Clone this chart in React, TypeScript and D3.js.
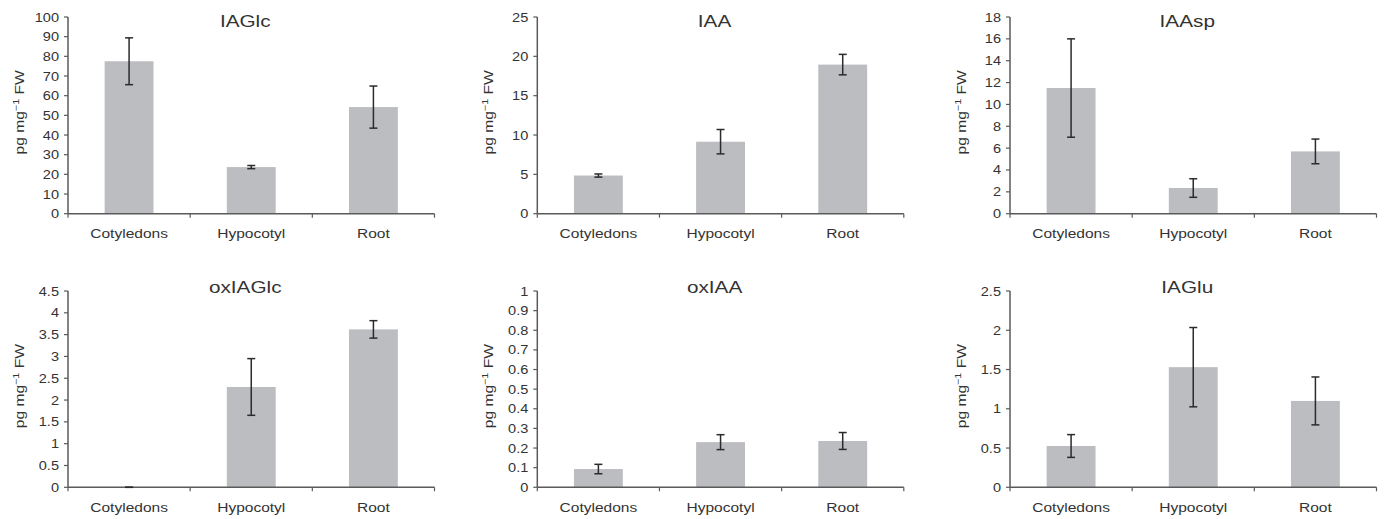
import React from "react";
import * as d3 from "d3";

const categories = ["Cotyledons", "Hypocotyl", "Root"];
const titles = ["IAGlc", "IAA", "IAAsp", "oxIAGlc", "oxIAA", "IAGlu"];
const yMax = [100, 25, 18, 4.5, 1, 2.5];
const yStep = [10, 5, 2, 0.5, 0.1, 0.5];

const iaglcMean = [77.5, 23.7, 54.2];
const iaglcErr = [11.9, 0.8, 10.7];
const iaaMean = [4.85, 9.15, 18.95];
const iaaErr = [0.2, 1.55, 1.3];
const iaaspMean = [11.5, 2.35, 5.7];
const iaaspErr = [4.5, 0.85, 1.13];
const oxiaglcMean = [0, 2.3, 3.62];
const oxiaglcErr = [0, 0.65, 0.2];
const oxiaaMean = [0.093, 0.23, 0.236];
const oxiaaErr = [0.024, 0.038, 0.043];
const iagluMean = [0.526, 1.53, 1.1];
const iagluErr = [0.145, 0.505, 0.305];

const means = [iaglcMean, iaaMean, iaaspMean, oxiaglcMean, oxiaaMean, iagluMean];
const errs = [iaglcErr, iaaErr, iaaspErr, oxiaglcErr, oxiaaErr, iagluErr];

// layout
const colX = [68, 537.3, 1010];
const plotW = 366.5;
const rowTop = [17, 291];
const rowZero = [213.7, 487.3];
const titleDy = [10.3, 1.7];

const BAR = "#bcbdc1";
const AXIS = "#5a5a5a";
const TEXT = "#333333";
const FONT = "'Liberation Sans', Arial, Helvetica, sans-serif";

function fmt(v: number) {
  return String(+v.toFixed(3));
}

function Panel({ idx }: { idx: number }) {
  const col = idx % 3;
  const row = Math.floor(idx / 3);
  const x0 = colX[col];
  const top = rowTop[row];
  const zero = rowZero[row];
  const x = d3.scaleBand<string>().domain(categories).range([x0, x0 + plotW]).paddingInner(0).paddingOuter(0);
  const y = d3.scaleLinear().domain([0, yMax[idx]]).range([zero, top]);
  const nT = Math.round(yMax[idx] / yStep[idx]);
  const ticks = d3.range(nT + 1).map((i) => i * yStep[idx]);
  const bw = x.bandwidth() * 0.4;
  const cx = (c: string) => (x(c) as number) + x.bandwidth() / 2;
  const boundaries = [x0, ...categories.map((c) => (x(c) as number) + x.bandwidth())];
  const m = means[idx];
  const e = errs[idx];
  return (
    <g>
      {categories.map((c, i) => (
        <rect key={c} x={cx(c) - bw / 2} y={y(m[i])} width={bw} height={zero - y(m[i])} fill={BAR} />
      ))}
      {/* y axis */}
      <line x1={x0} x2={x0} y1={top} y2={zero} stroke={AXIS} strokeWidth={1.5} />
      {ticks.map((t) => (
        <g key={t}>
          <line x1={x0 - 4} x2={x0} y1={y(t)} y2={y(t)} stroke={AXIS} strokeWidth={1.2} />
          <text
            transform={`translate(${x0 - 9},${y(t) + 4.5}) scale(1.12,1)`}
            textAnchor="end"
            fontSize={13}
            fill={TEXT}
            fontFamily={FONT}
          >
            {fmt(t)}
          </text>
        </g>
      ))}
      {/* x axis */}
      <line x1={x0} x2={x0 + plotW} y1={zero} y2={zero} stroke={AXIS} strokeWidth={1.5} />
      {boundaries.map((b, i) => (
        <line key={i} x1={b} x2={b} y1={zero} y2={zero + 4} stroke={AXIS} strokeWidth={1.2} />
      ))}
      {categories.map((c) => (
        <text
          key={c}
          transform={`translate(${cx(c)},${zero + 24.5}) scale(1.15,1)`}
          textAnchor="middle"
          fontSize={13.5}
          fill={TEXT}
          fontFamily={FONT}
        >
          {c}
        </text>
      ))}
      {/* error bars */}
      {categories.map((c, i) => {
        const yt = y(m[i] + e[i]);
        const yb = y(m[i] - e[i]);
        const xc = cx(c);
        return (
          <g key={c} stroke="#2b2b2b" strokeWidth={1.5}>
            <line x1={xc} x2={xc} y1={yt} y2={yb} />
            <line x1={xc - 4} x2={xc + 4} y1={yt} y2={yt} />
            <line x1={xc - 4} x2={xc + 4} y1={yb} y2={yb} />
          </g>
        );
      })}
      {/* title */}
      <text
        transform={`translate(${x0 + plotW / 2 - 6},${top + titleDy[row]}) scale(1.22,1)`}
        textAnchor="middle"
        fontSize={17}
        fill={TEXT}
        fontFamily={FONT}
      >
        {titles[idx]}
      </text>
      {/* y label */}
      <text
        transform={`translate(${x0 - 44},${(top + zero) / 2 - 3}) rotate(-90) scale(1.2,1)`}
        textAnchor="middle"
        fontSize={13}
        fill={TEXT}
        fontFamily={FONT}
      >
        pg mg
        <tspan fontSize={9} dy={-5}>−1</tspan>
        <tspan dy={5}> FW</tspan>
      </text>
    </g>
  );
}

export default function App() {
  return (
    <svg
      width={1384}
      height={519}
      style={{ position: "absolute", left: 0, top: 0, background: "#fff" }}
    >
      <rect width={1384} height={519} fill="#fff" />
      {titles.map((t, i) => (
        <Panel key={t} idx={i} />
      ))}
    </svg>
  );
}
